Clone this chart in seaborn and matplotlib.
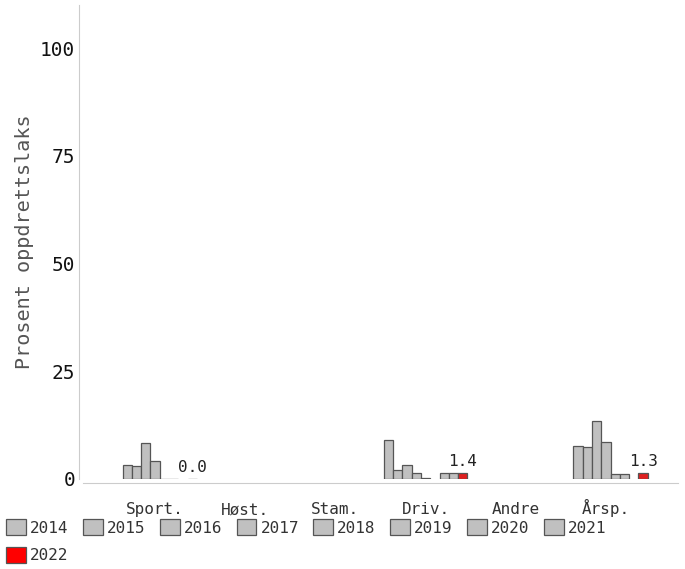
import numpy as np
import pandas as pd
import matplotlib
matplotlib.use("Agg")
import matplotlib.pyplot as plt
import matplotlib.patches as mpatches
import seaborn as sns

# --- data ---
categories = ["Sport.", "Høst.", "Stam.", "Driv.", "Andre", "Årsp."]
years = ["2014", "2015", "2016", "2017", "2018", "2019", "2020", "2021", "2022"]
nan = np.nan
sport = [nan, 3.3, 3.1, 8.3, 4.1, 0.05, 0.05, nan, 0.0]
host = [nan] * 9
stam = [nan] * 9
driv = [9.0, 2.2, 3.2, 1.5, 0.3, nan, 1.5, 1.5, 1.4]
andre = [nan] * 9
arsp = [nan, 7.6, 7.4, 13.5, 8.6, 1.2, 1.2, nan, 1.3]

rows = []
for cat, vals in zip(categories, [sport, host, stam, driv, andre, arsp]):
    for yr, v in zip(years, vals):
        rows.append({"kategori": cat, "år": yr, "prosent": v})
df = pd.DataFrame(rows)

palette = {yr: "#c0c0c0" for yr in years}
palette["2022"] = "#ff0000"

sns.set_style("white")
plt.rcParams["font.family"] = ["DejaVu Sans Mono", "DejaVu Sans"]

fig = plt.figure(figsize=(6.85, 5.69), dpi=100)
ax = fig.add_axes([83 / 685, 1 - 479 / 569, 595 / 685, 474 / 569])

sns.barplot(
    data=df.dropna(), x="kategori", y="prosent", hue="år",
    order=categories, hue_order=years, palette=palette,
    width=0.93, gap=0, edgecolor="#555555", linewidth=0.9,
    legend=False, ax=ax, errorbar=None,
)

ax.set_xlim(-0.8, 5.8)
ax.set_ylim(0, 110)
ax.set_yticks([0, 25, 50, 75, 100])
ax.set_xlabel("")
ax.set_ylabel("Prosent oppdrettslaks", fontsize=14.5, color="#555555")
ax.yaxis.set_label_coords(-0.082, 0.5)

# label only the newest year
ax.bar_label(ax.containers[-1], fmt="%.1f", padding=3, fontsize=11.5, color="#222222")

for s in ["top", "right"]:
    ax.spines[s].set_visible(False)
sns.despine(ax=ax, offset=3)
for s in ["left", "bottom"]:
    ax.spines[s].set_color("#cccccc")

ax.tick_params(axis="y", direction="in", length=8, color="#cccccc", labelsize=14,
               labelcolor="#111111", pad=2.5)
ax.tick_params(axis="x", direction="out", length=7, color="#cccccc", labelsize=11.5,
               labelcolor="#333333", pad=15.5)
for t in ax.get_xticklabels():
    t.set_verticalalignment("baseline")

# legend laid out row by row: first column holds 2014 and 2022
order = ["2014", "2022", "2015", "2016", "2017", "2018", "2019", "2020", "2021"]
handles = [mpatches.Patch(facecolor=palette[yr], edgecolor="#555555", linewidth=0.9, label=yr)
           for yr in order]
fig.legend(handles=handles, loc="upper left", bbox_to_anchor=(6 / 685, 1 - 519 / 569),
           ncol=8, frameon=False, fontsize=11.5, handlelength=1.25, handleheight=1.2,
           handletextpad=0.25, columnspacing=0.9, borderpad=0, borderaxespad=0,
           labelspacing=0.7, labelcolor="#333333")

fig.savefig("out.png", dpi=100)
